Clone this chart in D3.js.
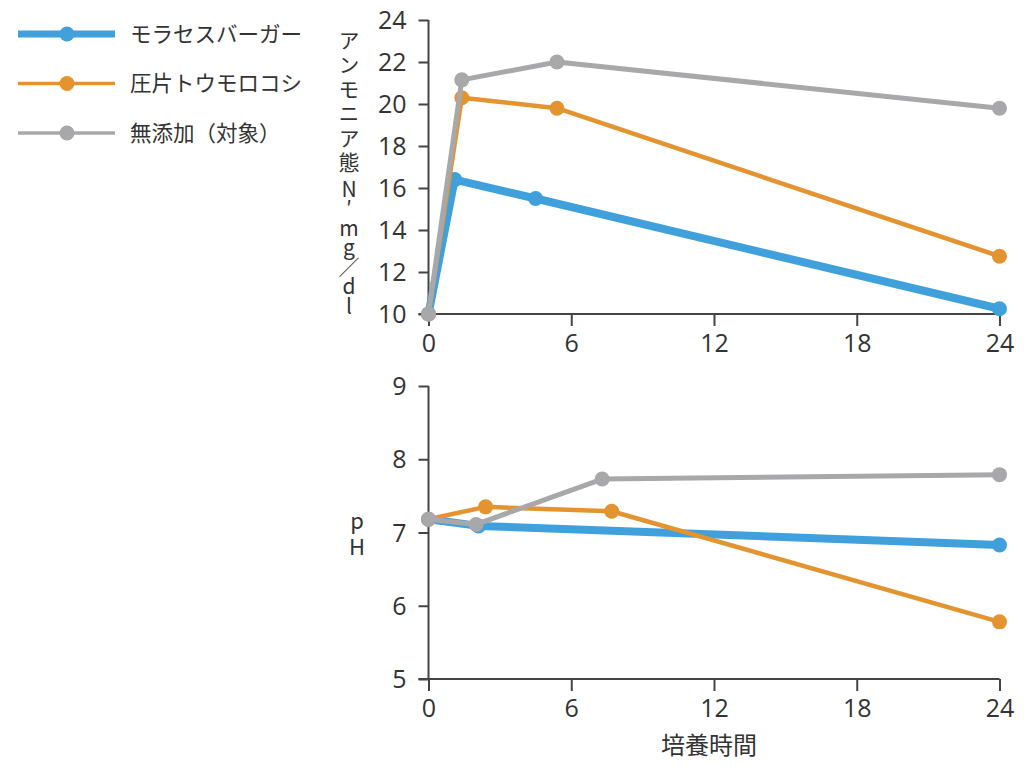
<!DOCTYPE html>
<html><head><meta charset="utf-8">
<script src="https://cdn.jsdelivr.net/npm/d3@7"></script>
<style>
body{margin:0;background:#fff;}
svg{display:block;}
text{font-family:"Open Sans","Noto Sans",sans-serif;fill:#333;}
.jp{font-family:"Noto Sans CJK JP","Noto Sans",sans-serif;}
.vert{writing-mode:vertical-rl;text-orientation:upright;}
.axis path,.axis line{stroke:#444;stroke-width:2;}
.axis text{font-size:25px;fill:#333;font-family:"Open Sans","Noto Sans",sans-serif;}
</style></head><body>
<script>
// ---- data ----
const seriesNames = ["モラセスバーガー", "圧片トウモロコシ", "無添加（対象）"];
const seriesColors = ["#3fa0dc", "#e39431", "#a8a8aa"];
const seriesWidths = [8, 4.5, 5];
const legendWidths = [7, 3.5, 3.5];

// Ammonia N (mg/dl) vs hours
const nhHours = [[0, 1.1, 4.5, 24], [0, 1.4, 5.4, 24], [0, 1.4, 5.4, 24]];
const nhValues = [[10, 16.4, 15.5, 10.25], [10, 20.3, 19.8, 12.75], [10, 21.15, 22.0, 19.8]];

// pH vs hours
const phHours = [[0, 2.1, 24], [0, 2.4, 7.7, 24], [0, 2.0, 7.3, 24]];
const phValues = [[7.18, 7.09, 6.83], [7.18, 7.35, 7.29, 5.78], [7.18, 7.11, 7.73, 7.79]];

const xTicks = [0, 6, 12, 18, 24];
const nhTicks = [10, 12, 14, 16, 18, 20, 22, 24];
const phTicks = [5, 6, 7, 8, 9];
const nhLabelParts = ["アンモニア態", "N′mg／dl"];
const phLabel = "pH";
const xLabel = "培養時間";

// ---- drawing ----
const svg = d3.select("body").append("svg").attr("width", 1024).attr("height", 767);

const x = d3.scaleLinear().domain([0, 24]).range([428.5, 999.5]);
const yTop = d3.scaleLinear().domain([10, 24]).range([314, 20]);
const yBot = d3.scaleLinear().domain([5, 9]).range([679, 386]);

function drawPanel(y, ticks, hours, values) {
  const g = svg.append("g");
  const xa = g.append("g").attr("class", "axis").attr("transform", `translate(0,${y.range()[0]})`)
    .call(d3.axisBottom(x).tickValues(xTicks).tickSize(12).tickSizeOuter(0).tickPadding(8).tickFormat(d3.format("d")));
  xa.select(".domain").attr("d", `M${x(0) - 10},0H${x(24)}`);
  const ya = g.append("g").attr("class", "axis").attr("transform", `translate(${x(0)},0)`)
    .call(d3.axisLeft(y).tickValues(ticks).tickSize(10).tickSizeOuter(0).tickPadding(12).tickFormat(d3.format("d")));
  ya.selectAll("text").attr("dy", "0.34em");
  ya.select(".domain").attr("d", `M0,${y.range()[1]}V${y.range()[0]}`);

  const line = d3.line().x(d => x(d[0])).y(d => y(d[1]));
  hours.forEach((hs, i) => {
    const pts = hs.map((h, j) => [h, values[i][j]]);
    g.append("path").attr("d", line(pts)).attr("fill", "none")
      .attr("stroke", seriesColors[i]).attr("stroke-width", seriesWidths[i])
      .attr("stroke-linejoin", "round").attr("stroke-linecap", "round");
    g.selectAll(null).data(pts).enter().append("circle")
      .attr("cx", d => x(d[0])).attr("cy", d => y(d[1])).attr("r", 7.5)
      .attr("fill", seriesColors[i]);
  });
  return g;
}
drawPanel(yTop, nhTicks, nhHours, nhValues);
drawPanel(yBot, phTicks, phHours, phValues);

// vertical axis titles
svg.append("text").attr("class", "jp vert")
  .attr("x", 349).attr("y", 29.5)
  .style("font-size", "21px").style("letter-spacing", "3.4px")
  .text(nhLabelParts[0]);
svg.append("text").attr("class", "jp vert")
  .attr("x", 349).attr("y", 178.5)
  .style("font-size", "21px").style("letter-spacing", "-1.5px")
  .text(nhLabelParts[1]);
svg.append("text").attr("class", "jp vert")
  .attr("x", 357).attr("y", 510)
  .style("font-size", "22px").style("letter-spacing", "4px")
  .text(phLabel);

svg.append("text").attr("class", "jp")
  .attr("x", x(12) - 5).attr("y", 754).attr("text-anchor", "middle")
  .style("font-size", "24px").text(xLabel);

// legend
const lg = svg.append("g");
seriesNames.forEach((n, i) => {
  const yy = 34 + i * 49.5;
  lg.append("line").attr("x1", 18).attr("x2", 115).attr("y1", yy).attr("y2", yy)
    .attr("stroke", seriesColors[i]).attr("stroke-width", legendWidths[i]);
  lg.append("circle").attr("cx", 67).attr("cy", yy).attr("r", 7.5).attr("fill", seriesColors[i]);
  lg.append("text").attr("class", "jp").attr("x", 130).attr("y", yy + 7.5)
    .style("font-size", "21.5px").text(n);
});
</script>
</body></html>
